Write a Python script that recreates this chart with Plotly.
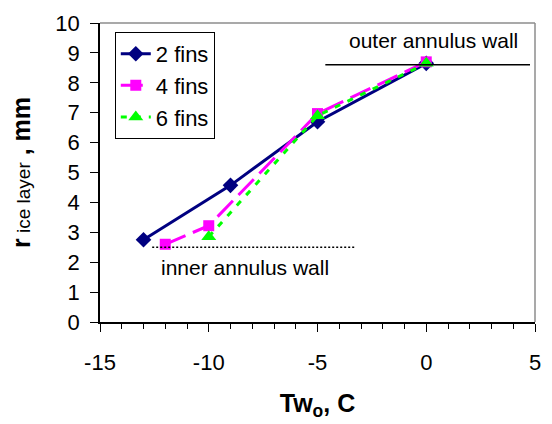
import plotly.graph_objects as go

# Data
x2 = [-13, -9, -5, 0]
y2 = [2.75, 4.57, 6.7, 8.65]
x4 = [-12, -10, -5, 0]
y4 = [2.6, 3.22, 6.97, 8.7]
x6 = [-10, -5, 0]
y6 = [2.85, 6.9, 8.65]

xticks = [-15, -10, -5, 0, 5]
xticklabels = ["-15", "-10", "-5", "0", "5"]
yticks = list(range(0, 11))

outer_x = [-4.64, 4.77]
outer_y = 8.6
inner_x = [-12.6, -3.27]
inner_y = 2.5

FONT = "Liberation Sans, Arial, sans-serif"

fig = go.Figure()
fig.add_trace(go.Scatter(x=x2, y=y2, name="2 fins", mode="lines+markers",
                         line=dict(color="#000080", width=3),
                         marker=dict(symbol="diamond", size=12, color="#000080")))
fig.add_trace(go.Scatter(x=x4, y=y4, name="4 fins", mode="lines+markers",
                         line=dict(color="#FF00FF", width=3, dash="22px,8px"),
                         marker=dict(symbol="square", size=11, color="#FF00FF")))
fig.add_trace(go.Scatter(x=x6, y=y6, name="6 fins", mode="lines+markers",
                         line=dict(color="#00FF00", width=3, dash="6px,8px"),
                         marker=dict(symbol="triangle-up", size=13, color="#00FF00")))

# annulus wall lines
fig.add_trace(go.Scatter(x=outer_x, y=[outer_y, outer_y], mode="lines", showlegend=False,
                         line=dict(color="black", width=1.5), hoverinfo="skip"))
fig.add_trace(go.Scatter(x=inner_x, y=[inner_y, inner_y], mode="lines", showlegend=False,
                         line=dict(color="black", width=1.5, dash="2px,2px"), hoverinfo="skip"))

fig.add_annotation(x=4.3, y=9.4, text="outer annulus wall", showarrow=False,
                   xanchor="right", yanchor="middle", font=dict(size=21, color="black", family=FONT))
fig.add_annotation(x=-12.3, y=1.83, text="inner annulus wall", showarrow=False,
                   xanchor="left", yanchor="middle", font=dict(size=21, color="black", family=FONT))

# gray top/right frame
fig.add_shape(type="line", xref="paper", yref="paper", x0=0, x1=1, y0=1, y1=1,
              line=dict(color="#8c8c8c", width=1.5))
fig.add_shape(type="line", xref="paper", yref="paper", x0=1, x1=1, y0=0, y1=1,
              line=dict(color="#8c8c8c", width=1.5))

fig.update_layout(
    width=552, height=424,
    margin=dict(l=100, r=11, t=16, b=102),
    paper_bgcolor="white", plot_bgcolor="white",
    font=dict(family=FONT, size=22, color="black"),
    showlegend=True,
    legend=dict(x=0.034, y=0.97, xanchor="left", yanchor="top",
                bordercolor="black", borderwidth=1, bgcolor="white",
                font=dict(size=22), tracegroupgap=0, itemwidth=30),
    xaxis=dict(range=[-15, 5], tickmode="array", tickvals=xticks, ticktext=xticklabels,
               ticks="outside", ticklen=8, tickcolor="black", tickwidth=1,
               ticklabelstandoff=12,
               minor=dict(ticks="outside", ticklen=5, dtick=1, tickcolor="black"),
               showline=True, linecolor="black", linewidth=1.5,
               showgrid=False, zeroline=False,
               title=dict(text="<b>Tw<sub>o</sub>, C</b>", font=dict(size=25), standoff=20)),
    yaxis=dict(range=[0, 10], tickmode="array", tickvals=yticks,
               ticks="outside", ticklen=8, tickcolor="black", tickwidth=1,
               ticklabelstandoff=6,
               showline=True, linecolor="black", linewidth=1.5,
               showgrid=False, zeroline=False,
               title=dict(text="<b>r</b><span style='font-size:19px'> ice layer</span><b> , mm</b>",
                          font=dict(size=25), standoff=18)),
)

fig.write_html("out.html")
